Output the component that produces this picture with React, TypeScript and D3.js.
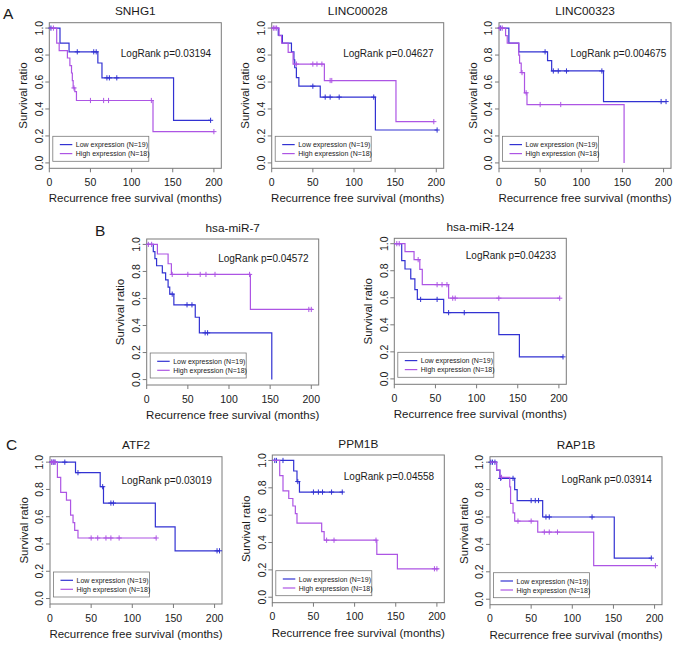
import React from "react";
import * as d3 from "d3";

// ---------- data ----------
const GENES = ["SNHG1", "LINC00028", "LINC00323", "hsa-miR-7", "hsa-miR-124", "ATF2", "PPM1B", "RAP1B"];
const PVALUES = ["0.03194", "0.04627", "0.004675", "0.04572", "0.04233", "0.03019", "0.04558", "0.03914"];
const SERIES_LABELS = ["Low expression (N=19)", "High expression (N=18)"];
const X_TICKS = [0, 50, 100, 150, 200];
const Y_TICKS = [0, 0.2, 0.4, 0.6, 0.8, 1.0];

// [time, survival after drop]
const SNHG1_LOW = [[13, 0.889], [24, 0.824], [59, 0.741], [64, 0.631], [151, 0.316]];
const SNHG1_LOW_END = 196;
const SNHG1_LOW_CENS = [2, 34, 54, 57, 70, 73, 82, 196];
const SNHG1_HIGH = [[9, 0.889], [12, 0.833], [22, 0.778], [25, 0.722], [27, 0.667], [28, 0.611], [29, 0.556], [31, 0.529], [33, 0.463], [126, 0.232]];
const SNHG1_HIGH_END = 200;
const SNHG1_HIGH_CENS = [5, 30, 50, 66, 72, 124, 200];

const LINC28_LOW = [[8, 0.947], [13, 0.889], [24, 0.824], [27, 0.765], [28, 0.706], [30, 0.633], [33, 0.569], [59, 0.488], [126, 0.244]];
const LINC28_LOW_END = 201;
const LINC28_LOW_CENS = [50, 65, 71, 82, 124, 201];
const LINC28_HIGH = [[9, 0.944], [12, 0.889], [20, 0.82], [26, 0.733], [64, 0.611], [151, 0.306]];
const LINC28_HIGH_END = 197;
const LINC28_HIGH_CENS = [2, 4, 6, 30, 50, 55, 61, 71, 73, 197];

const LINC323_LOW = [[12, 0.889], [24, 0.824], [59, 0.758], [64, 0.682], [127, 0.455]];
const LINC323_LOW_END = 203;
const LINC323_LOW_CENS = [2, 56, 66, 72, 82, 125, 197, 203];
const LINC323_HIGH = [[8, 0.944], [10, 0.889], [24, 0.8], [25, 0.74], [27, 0.67], [31, 0.52], [34, 0.433], [152, 0]];
const LINC323_HIGH_END = 152;
const LINC323_HIGH_CENS = [1, 4, 28, 33, 50, 75];

const MIR7_LOW = [[8, 0.947], [10, 0.895], [12, 0.842], [19, 0.789], [23, 0.737], [26, 0.684], [28, 0.632], [33, 0.553], [59, 0.461], [64, 0.346], [152, 0]];
const MIR7_LOW_END = 152;
const MIR7_LOW_CENS = [31, 49, 55, 71, 74];
const MIR7_HIGH = [[13, 0.929], [26, 0.857], [30, 0.778], [126, 0.519]];
const MIR7_HIGH_END = 202;
const MIR7_HIGH_CENS = [2, 6, 31, 50, 65, 72, 83, 125, 197, 200];

const MIR124_LOW = [[9, 0.875], [13, 0.813], [20, 0.74], [25, 0.66], [28, 0.588], [60, 0.49], [127, 0.327], [152, 0.163]];
const MIR124_LOW_END = 205;
const MIR124_LOW_CENS = [32, 52, 66, 85, 205];
const MIR124_HIGH = [[13, 0.941], [24, 0.882], [31, 0.81], [34, 0.697], [66, 0.597]];
const MIR124_HIGH_END = 201;
const MIR124_HIGH_CENS = [3, 6, 29, 52, 58, 64, 71, 74, 127, 201];

const ATF2_LOW = [[31, 0.923], [61, 0.82], [65, 0.70], [128, 0.525], [152, 0.35]];
const ATF2_LOW_END = 206;
const ATF2_LOW_CENS = [2, 4, 6, 18, 34, 64, 74, 77, 203, 206];
const ATF2_HIGH = [[9, 0.889], [13, 0.778], [20, 0.722], [25, 0.611], [28, 0.556], [30, 0.5], [34, 0.444]];
const ATF2_HIGH_END = 129;
const ATF2_HIGH_CENS = [2, 4, 6, 50, 58, 68, 74, 84, 129];

const PPM1B_LOW = [[26, 0.923], [30, 0.846], [33, 0.769]];
const PPM1B_LOW_END = 86;
const PPM1B_LOW_CENS = [3, 5, 13, 31, 50, 56, 61, 72, 85];
const PPM1B_HIGH = [[9, 0.889], [13, 0.778], [20, 0.722], [25, 0.667], [28, 0.611], [30, 0.542], [60, 0.48], [63, 0.417], [127, 0.313], [152, 0.208]];
const PPM1B_HIGH_END = 202;
const PPM1B_HIGH_CENS = [66, 75, 126, 197, 200];

const RAP1B_LOW = [[8, 0.941], [12, 0.882], [30, 0.80], [33, 0.72], [64, 0.60], [151, 0.30]];
const RAP1B_LOW_END = 196;
const RAP1B_LOW_CENS = [1, 3, 6, 13, 28, 50, 55, 59, 68, 72, 124, 196];
const RAP1B_HIGH = [[8, 0.944], [12, 0.889], [24, 0.82], [25, 0.70], [28, 0.63], [30, 0.57], [58, 0.49], [126, 0.245]];
const RAP1B_HIGH_END = 201;
const RAP1B_HIGH_CENS = [14, 34, 50, 66, 72, 82, 201];

// ---------- layout (positions only) ----------
const LAYOUT = [
  { L: 49.3, T: 22.7, H: 145.6, pdy: 31 },
  { L: 271.7, T: 22.7, H: 145.6, pdy: 31 },
  { L: 499, T: 22.7, H: 145.6, pdy: 31 },
  { L: 146.7, T: 239, H: 146, pdy: 19.3 },
  { L: 394.3, T: 238.3, H: 146, pdy: 16.7 },
  { L: 50, T: 456.7, H: 147.3, pdy: 23.3 },
  { L: 272.3, T: 455, H: 147.7, pdy: 21.7 },
  { L: 490, T: 456.7, H: 148, pdy: 22.7 },
];
const BOX_W = 172;
const X_MAX = 209;

const CURVES = [
  [[SNHG1_LOW, SNHG1_LOW_END, SNHG1_LOW_CENS], [SNHG1_HIGH, SNHG1_HIGH_END, SNHG1_HIGH_CENS]],
  [[LINC28_LOW, LINC28_LOW_END, LINC28_LOW_CENS], [LINC28_HIGH, LINC28_HIGH_END, LINC28_HIGH_CENS]],
  [[LINC323_LOW, LINC323_LOW_END, LINC323_LOW_CENS], [LINC323_HIGH, LINC323_HIGH_END, LINC323_HIGH_CENS]],
  [[MIR7_LOW, MIR7_LOW_END, MIR7_LOW_CENS], [MIR7_HIGH, MIR7_HIGH_END, MIR7_HIGH_CENS]],
  [[MIR124_LOW, MIR124_LOW_END, MIR124_LOW_CENS], [MIR124_HIGH, MIR124_HIGH_END, MIR124_HIGH_CENS]],
  [[ATF2_LOW, ATF2_LOW_END, ATF2_LOW_CENS], [ATF2_HIGH, ATF2_HIGH_END, ATF2_HIGH_CENS]],
  [[PPM1B_LOW, PPM1B_LOW_END, PPM1B_LOW_CENS], [PPM1B_HIGH, PPM1B_HIGH_END, PPM1B_HIGH_CENS]],
  [[RAP1B_LOW, RAP1B_LOW_END, RAP1B_LOW_CENS], [RAP1B_HIGH, RAP1B_HIGH_END, RAP1B_HIGH_CENS]],
];

const COLORS = ["#3232d2", "#ad55e4"];
const FONT = "'Liberation Sans', Arial, Helvetica, sans-serif";
const AXIS = "#7a7a7a";
const TEXT = "#1a1a1a";

function survAt(steps: number[][], t: number) {
  let s = 1;
  for (const [st, sv] of steps) if (st <= t) s = sv;
  return s;
}

function Panel({ i }: { i: number }) {
  const { L, T, H, pdy } = LAYOUT[i];
  const B = T + H;
  const R = L + BOX_W;
  const x = d3.scaleLinear().domain([0, X_MAX]).range([L, R]);
  const y = d3.scaleLinear().domain([-0.04, 1.04]).range([B, T]);
  const line = d3.line<number[]>().x((d) => x(d[0])).y((d) => y(d[1])).curve(d3.curveStepAfter);
  const legL = L + 3.5;
  const legT = B - 32;
  return (
    <g>
      <text x={(L + R) / 2} y={T - 7.5} textAnchor="middle" fontSize={11.8} fill={TEXT}>{GENES[i]}</text>
      <rect x={L} y={T} width={BOX_W} height={H} fill="none" stroke={AXIS} strokeWidth={1} />
      {X_TICKS.map((t) => (
        <g key={"x" + t}>
          <line x1={x(t)} x2={x(t)} y1={B} y2={B + 4} stroke={AXIS} />
          <text x={x(t)} y={B + 17.5} textAnchor="middle" fontSize={10.5} fill={TEXT}>{t}</text>
        </g>
      ))}
      {Y_TICKS.map((t) => (
        <g key={"y" + t}>
          <line x1={L - 4} x2={L} y1={y(t)} y2={y(t)} stroke={AXIS} />
          <text transform={`translate(${L - 6.8},${y(t)}) rotate(-90)`} textAnchor="middle" fontSize={10.5} fill={TEXT}>{t.toFixed(1)}</text>
        </g>
      ))}
      <text x={(L + R) / 2} y={B + 34} textAnchor="middle" fontSize={11.5} fill={TEXT}>Recurrence free survival (months)</text>
      <text transform={`translate(${L - 22.5},${(T + B) / 2}) rotate(-90)`} textAnchor="middle" fontSize={11.5} fill={TEXT}>Survival ratio</text>
      <text x={L + 71.5} y={T + pdy + 3.6} fontSize={10} fill={TEXT}>LogRank p={PVALUES[i]}</text>
      {CURVES[i].map(([steps, end, cens], k) => {
        const st = steps as number[][];
        const pts = [[0, 1], ...st, [end as number, st[st.length - 1][1]]];
        return (
          <g key={k} stroke={COLORS[k]} strokeWidth={1.2} fill="none">
            <path d={line(pts) || ""} />
            {(cens as number[]).map((c, j) => {
              const cx = x(c);
              const cy = y(survAt(st, c));
              return <path key={j} d={`M${cx},${cy - 2.6}V${cy + 2.6}M${cx - 2.6},${cy}H${cx + 2.6}`} strokeWidth={1} />;
            })}
          </g>
        );
      })}
      <rect x={legL} y={legT} width={96} height={25} fill="white" stroke={AXIS} strokeWidth={0.8} />
      {SERIES_LABELS.map((lab, k) => (
        <g key={lab}>
          <line x1={legL + 7} x2={legL + 19.5} y1={legT + 8.3 + k * 9} y2={legT + 8.3 + k * 9} stroke={COLORS[k]} strokeWidth={1.2} />
          <text x={legL + 23} y={legT + 10.8 + k * 9} fontSize={7} fill={TEXT}>{lab}</text>
        </g>
      ))}
    </g>
  );
}

export default function App() {
  return (
    <svg width={677} height={645} style={{ position: "absolute", left: 0, top: 0, background: "white" }} fontFamily={FONT}>
      <rect width={677} height={645} fill="white" />
      <text x={3} y={19} fontSize={15.5} fill={TEXT}>A</text>
      <text x={95} y={236} fontSize={15.5} fill={TEXT}>B</text>
      <text x={6} y={450} fontSize={15.5} fill={TEXT}>C</text>
      {GENES.map((g, i) => <Panel key={g} i={i} />)}
    </svg>
  );
}
